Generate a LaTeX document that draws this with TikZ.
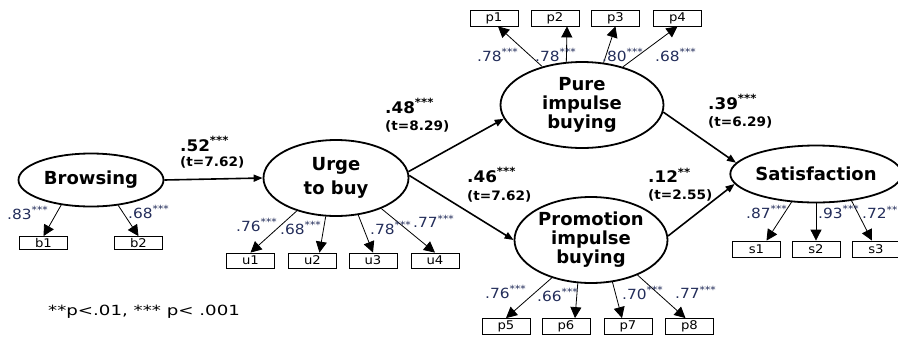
\documentclass[tikz,border=0pt]{standalone}
\usepackage{fontspec}
\setmainfont{DejaVu Sans}
\usetikzlibrary{shapes.geometric,arrows.meta}
\definecolor{loadc}{RGB}{35,45,90}
\newcommand\hs[2][1.1]{\scalebox{#1}[1]{#2}}
\newcommand\ld[1]{\hs{#1\textsuperscript{***}}}
\tikzset{
  latent/.style={ellipse,draw,line width=1.8pt,inner sep=0pt,align=center,
    font=\bfseries\fontsize{18}{19}\selectfont},
  ind/.style={rectangle,draw,line width=0.8pt,minimum width=48pt,minimum height=15pt,
    inner sep=0pt,font=\fontsize{12}{13}\selectfont},
  loadlab/.style={anchor=west,inner sep=0pt,text=loadc,font=\fontsize{14}{15}\selectfont},
  coef/.style={anchor=west,inner sep=0pt,font=\bfseries\fontsize{16}{17}\selectfont},
  tval/.style={anchor=west,inner sep=0pt,font=\bfseries\fontsize{13}{14}\selectfont},
  loadarr/.style={draw,line width=0.8pt,-{Triangle[length=11pt,width=11pt]}},
  patharr/.style={draw,line width=1.6pt,-{Triangle[length=9pt,width=7pt]}},
}
\begin{document}
\begin{tikzpicture}[x=1pt,y=-1pt]
\useasboundingbox (0,0) rectangle (898,338);
% latent variables
\node[latent,minimum width=145pt,minimum height=53pt] (brow) at (91,180) {Browsing};
\node[latent,minimum width=145pt,minimum height=76pt] (urge) at (336,178) {Urge\\[5pt]to buy};
\node[latent,minimum width=163pt,minimum height=86pt] (pure) at (582,105) {Pure\\impulse\\buying};
\node[latent,minimum width=153pt,minimum height=86pt] (promo) at (591,240) {Promotion\\impulse\\buying};
\node[latent,minimum width=143pt,minimum height=57pt] (sat) at (816,174) {Satisfaction};
% indicators
\node[ind,minimum height=13pt] (b1) at (43.5,243) {\hs{b1}};
\node[ind,minimum height=13pt] (b2) at (138.5,243) {\hs{b2}};
\node[ind] (u1) at (250.5,260.5) {\hs{u1}};
\node[ind] (u2) at (312.5,260.5) {\hs{u2}};
\node[ind] (u3) at (373,260.5) {\hs{u3}};
\node[ind] (u4) at (435,260.5) {\hs{u4}};
\node[ind,minimum height=16pt] (p1) at (494,18) {\hs{p1}};
\node[ind,minimum height=16pt] (p2) at (555,18) {\hs{p2}};
\node[ind,minimum height=16pt] (p3) at (615.5,18) {\hs{p3}};
\node[ind,minimum height=16pt] (p4) at (677.5,18) {\hs{p4}};
\node[ind,minimum height=16pt] (p5) at (506,326.5) {\hs{p5}};
\node[ind,minimum height=16pt] (p6) at (566,326.5) {\hs{p6}};
\node[ind,minimum height=16pt] (p7) at (628,326.5) {\hs{p7}};
\node[ind,minimum height=16pt] (p8) at (689.5,326.5) {\hs{p8}};
\node[ind,minimum height=16pt] (s1) at (756.5,249) {\hs{s1}};
\node[ind,minimum height=16pt] (s2) at (816,249) {\hs{s2}};
\node[ind,minimum height=16pt] (s3) at (876,249) {\hs{s3}};
% loading arrows
\draw[loadarr] (brow.220) -- (b1.north);
\draw[loadarr] (brow.317) -- (b2.north);
\draw[loadarr] (urge.220) -- (u1.north);
\draw[loadarr] (urge.255) -- ([xshift=7pt]u2.north);
\draw[loadarr] (urge.301) -- (u3.north);
\draw[loadarr] (urge.326) -- (u4.north);
\draw[loadarr] (pure.136) -- ([xshift=4pt]p1.south);
\draw[loadarr] (pure.110) -- ([xshift=12pt]p2.south);
\draw[loadarr] (pure.63) -- (p3.south);
\draw[loadarr] (pure.43) -- (p4.south);
\draw[loadarr] (promo.224) -- (p5.north);
\draw[loadarr] (promo.253) -- ([xshift=9pt]p6.north);
\draw[loadarr] (promo.297) -- ([xshift=-6pt]p7.north);
\draw[loadarr] (promo.323) -- ([xshift=-4pt]p8.north);
\draw[loadarr] (sat.229) -- ([xshift=10pt]s1.north);
\draw[loadarr] (sat.270) -- (s2.north);
\draw[loadarr] (sat.323) -- ([xshift=-4pt]s3.north);
% structural paths
\draw[patharr] (brow.east) -- (urge.west);
\draw[patharr] (urge.5) -- (pure.190);
\draw[patharr] (urge.2) -- (promo.west);
\draw[patharr] (pure.-5) -- (sat.172);
\draw[patharr] (promo.3) -- (sat.187);
% loading labels
\node[loadlab] (l1) at (7,213) {\ld{.83}};
\node[loadlab] (l2) at (128,212) {\ld{.68}};
\node[loadlab] (l3) at (236,225) {\ld{.76}};
\node[loadlab] (l4) at (280,228) {\ld{.68}};
\node[loadlab] (l5) at (370,228) {\ld{.78}};
\node[loadlab] (l6) at (413,221) {\ld{.77}};
\node[loadlab] (l7) at (477,55) {\ld{.78}};
\node[loadlab] (l8) at (535,55) {\ld{.78}};
\node[loadlab] (l9) at (602,55) {\ld{.80}};
\node[loadlab] (l10) at (655,55) {\ld{.68}};
\node[loadlab] (l11) at (485,292) {\ld{.76}};
\node[loadlab] (l12) at (537,295) {\ld{.66}};
\node[loadlab] (l13) at (622,293) {\ld{.70}};
\node[loadlab] (l14) at (675,292) {\ld{.77}};
\node[loadlab] (l15) at (746,212) {\ld{.87}};
\node[loadlab] (l16) at (818,212) {\ld{.93}};
\node[loadlab] (l17) at (862,212) {\hs{.72\textsuperscript{**}}};
% path coefficients
\node[coef] (c1) at (180,144) {\hs[1.05]{.52\textsuperscript{***}}};
\node[tval] (t1) at (180,162) {\hs[1.05]{(t=7.62)}};
\node[coef] (c2) at (385,106) {\hs[1.05]{.48\textsuperscript{***}}};
\node[tval] (t2) at (385,126) {\hs[1.05]{(t=8.29)}};
\node[coef] (c3) at (467,175) {\hs[1.05]{.46\textsuperscript{***}}};
\node[tval] (t3) at (467,196) {\hs[1.05]{(t=7.62)}};
\node[coef] (c4) at (708,102) {\hs[1.05]{.39\textsuperscript{***}}};
\node[tval] (t4) at (708,122) {\hs[1.05]{(t=6.29)}};
\node[coef] (c5) at (648,175) {\hs[1.05]{.12\textsuperscript{**}}};
\node[tval] (t5) at (648,195) {\hs[1.05]{(t=2.55)}};
% footnote
\node[anchor=west,inner sep=0pt,font=\fontsize{14}{16}\selectfont] (note) at (48,312) {\hs[1.3]{**p<.01,\ *** p<\ .001}};
\end{tikzpicture}
\end{document}
